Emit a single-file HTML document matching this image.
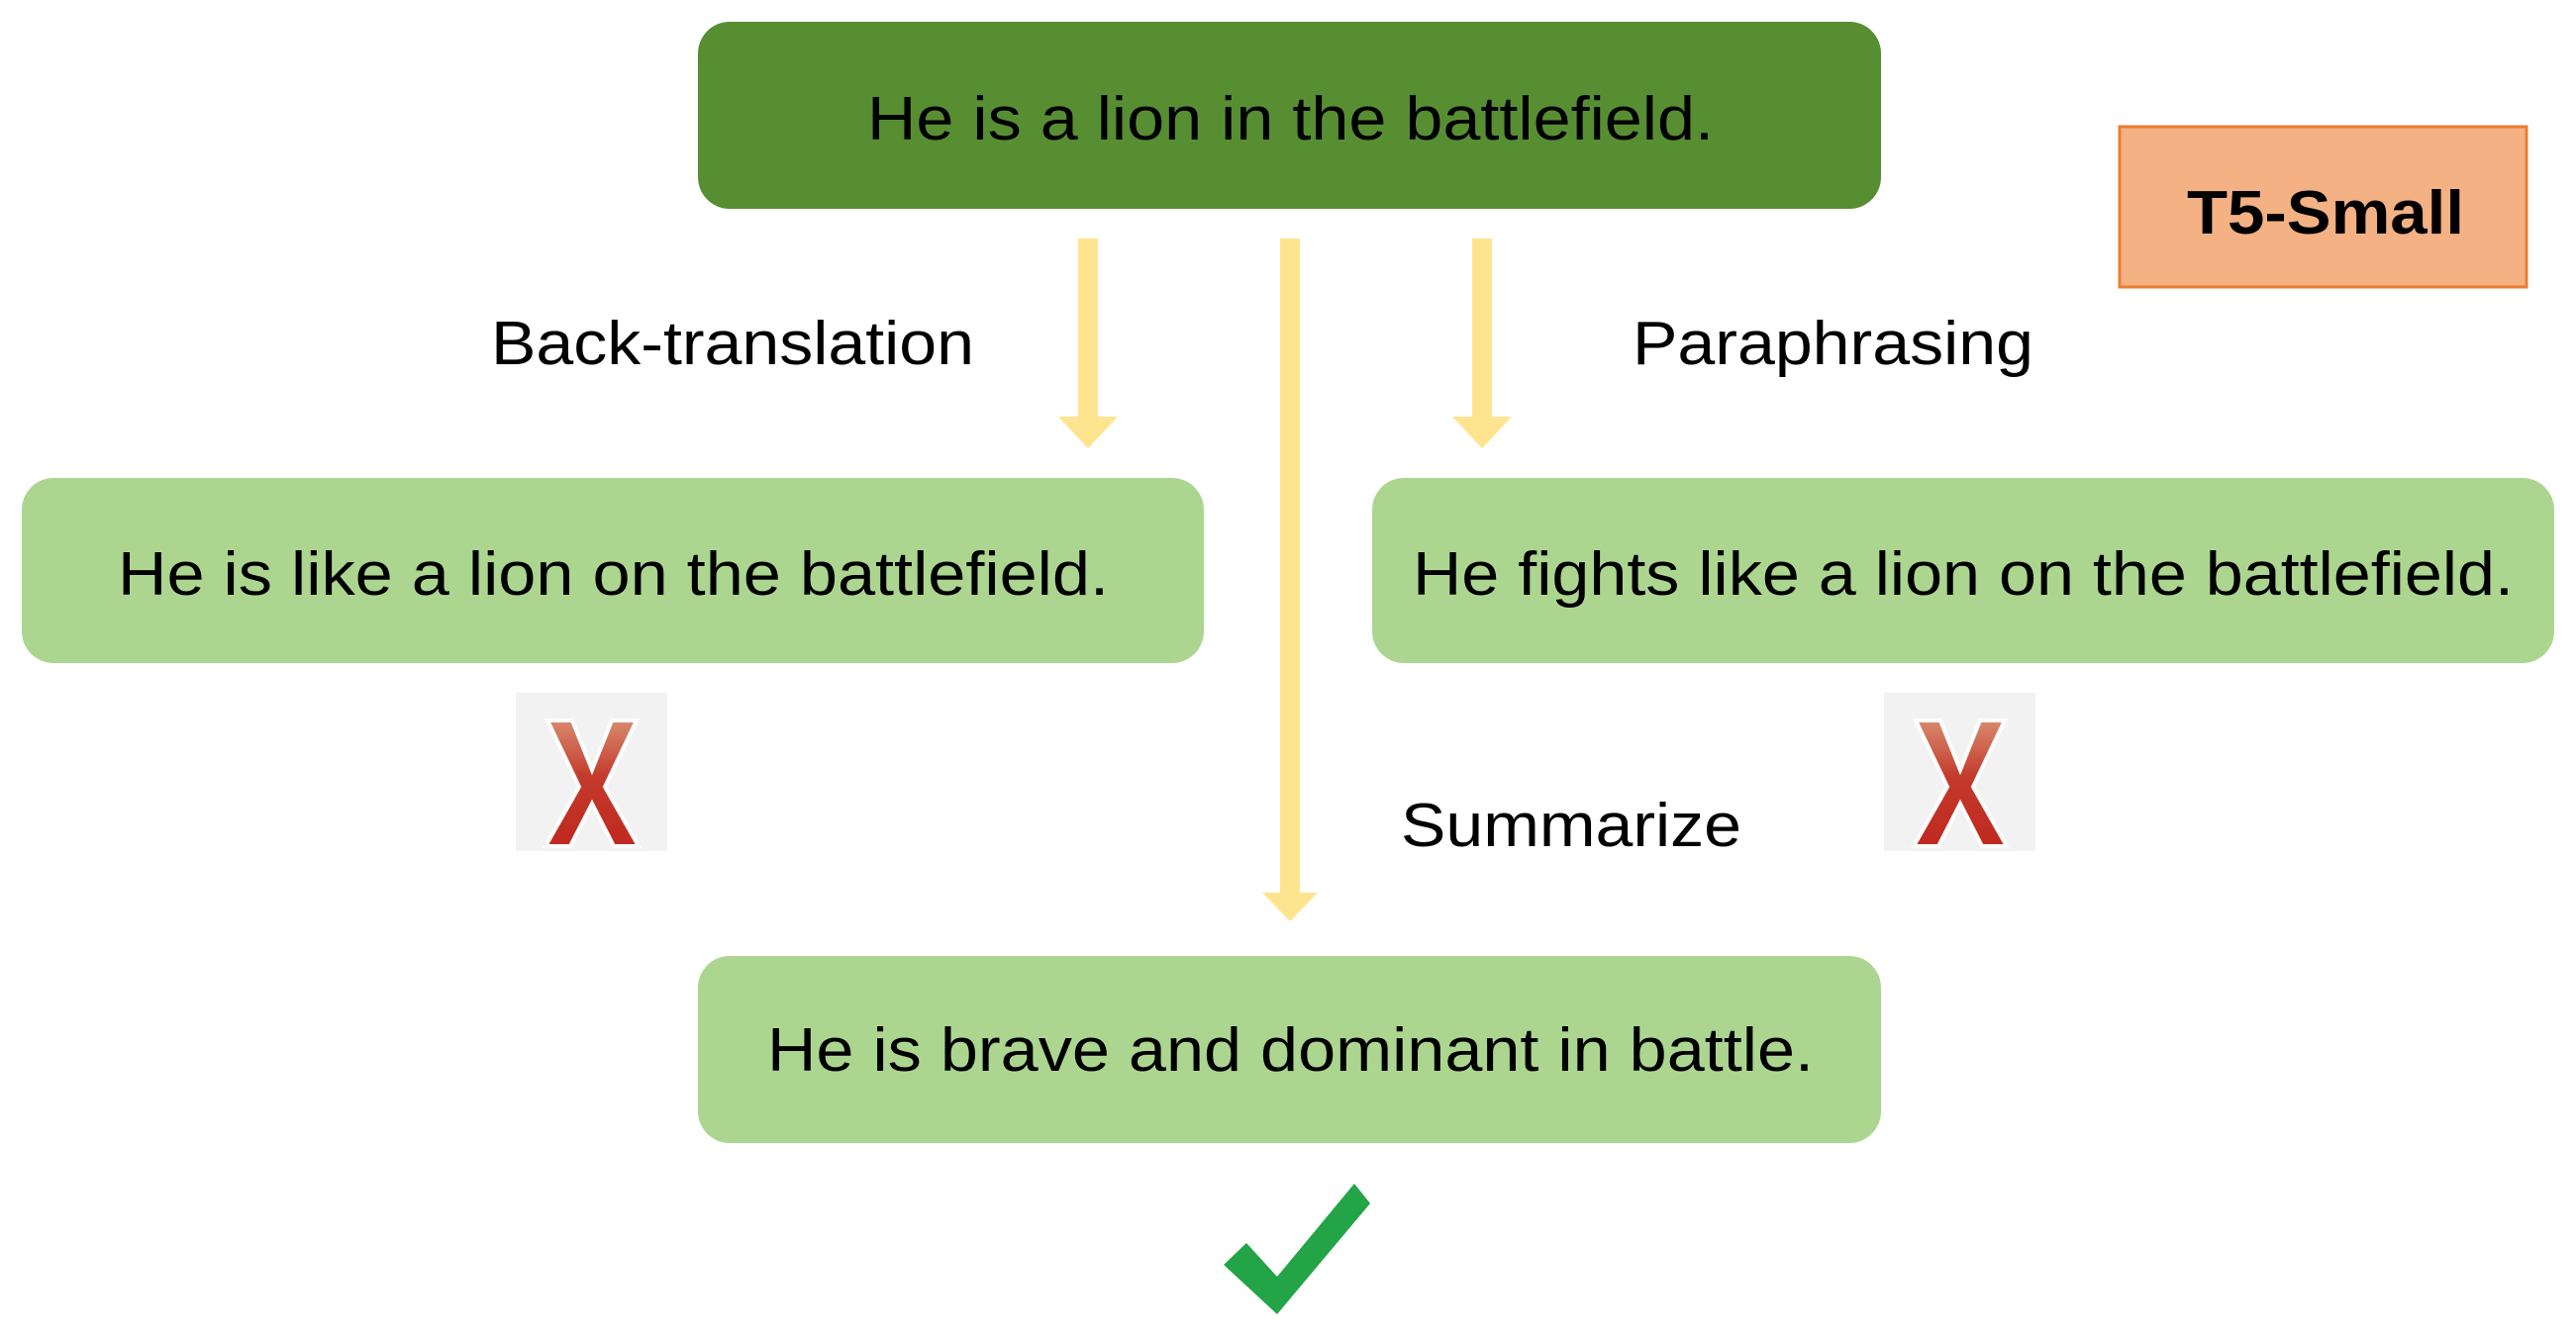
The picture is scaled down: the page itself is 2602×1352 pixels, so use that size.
<!DOCTYPE html>
<html><head><meta charset="utf-8"><style>html,body{margin:0;padding:0;background:#fff}</style></head>
<body>
<svg width="2602" height="1347" viewBox="0 0 2602 1347" xmlns="http://www.w3.org/2000/svg" font-family="Liberation Sans, Arial, sans-serif">
<defs>
<linearGradient id="xg" x1="0" y1="0" x2="0" y2="1"><stop offset="0" stop-color="#d98a6e"/><stop offset="0.45" stop-color="#c33a2c"/><stop offset="1" stop-color="#c0281f"/></linearGradient>
</defs>
<!-- boxes -->
<rect x="705" y="22" width="1195" height="189" rx="32" fill="#578e32"/>
<rect x="22" y="483" width="1194" height="187" rx="32" fill="#acd690"/>
<rect x="1386" y="483" width="1194" height="187" rx="32" fill="#acd690"/>
<rect x="705" y="966" width="1195" height="189" rx="32" fill="#acd690"/>
<rect x="2141" y="128" width="411" height="162" fill="#f4b183" stroke="#ed7d31" stroke-width="3"/>
<!-- arrows -->
<g fill="#ffe48f">
<rect x="1089" y="241" width="20" height="185"/><polygon points="1069,421 1129,421 1099,453"/>
<rect x="1487" y="241" width="20" height="185"/><polygon points="1467,421 1527,421 1497,453"/>
<rect x="1293" y="241" width="20" height="665"/><polygon points="1275,902 1331,902 1303,931"/>
</g>
<!-- text -->
<g font-size="62" fill="#000">
<text x="876" y="141" textLength="855" lengthAdjust="spacingAndGlyphs">He is a lion in the battlefield.</text>
<text x="119" y="601" textLength="1001" lengthAdjust="spacingAndGlyphs">He is like a lion on the battlefield.</text>
<text x="1427" y="601" textLength="1112" lengthAdjust="spacingAndGlyphs">He fights like a lion on the battlefield.</text>
<text x="775" y="1082" textLength="1057" lengthAdjust="spacingAndGlyphs">He is brave and dominant in battle.</text>
<text x="496" y="368" textLength="488" lengthAdjust="spacingAndGlyphs">Back-translation</text>
<text x="1649" y="368" textLength="405" lengthAdjust="spacingAndGlyphs">Paraphrasing</text>
<text x="1415" y="855" textLength="344" lengthAdjust="spacingAndGlyphs">Summarize</text>
<text x="2209" y="236" font-weight="bold" textLength="280" lengthAdjust="spacingAndGlyphs">T5-Small</text>
</g>
<!-- X icons -->
<g>
<rect x="521" y="700" width="153" height="160" fill="#f2f2f2"/>
<path d="M553,728 L578,728 L598,778 L618,728 L643,728 L611,795 L645,855 L620,855 L598,812 L576,855 L551,855 L585,795 Z" fill="url(#xg)" stroke="#fff" stroke-width="4"/>
<rect x="1903" y="700" width="153" height="160" fill="#f2f2f2"/>
<path d="M1935,728 L1960,728 L1980,778 L2000,728 L2025,728 L1993,795 L2027,855 L2002,855 L1980,812 L1958,855 L1933,855 L1967,795 Z" fill="url(#xg)" stroke="#fff" stroke-width="4"/>
</g>
<!-- check -->
<polygon points="1236,1278 1259,1256 1290,1290 1368,1196 1384,1216 1290,1328" fill="#23a446"/>
</svg>
</body></html>
